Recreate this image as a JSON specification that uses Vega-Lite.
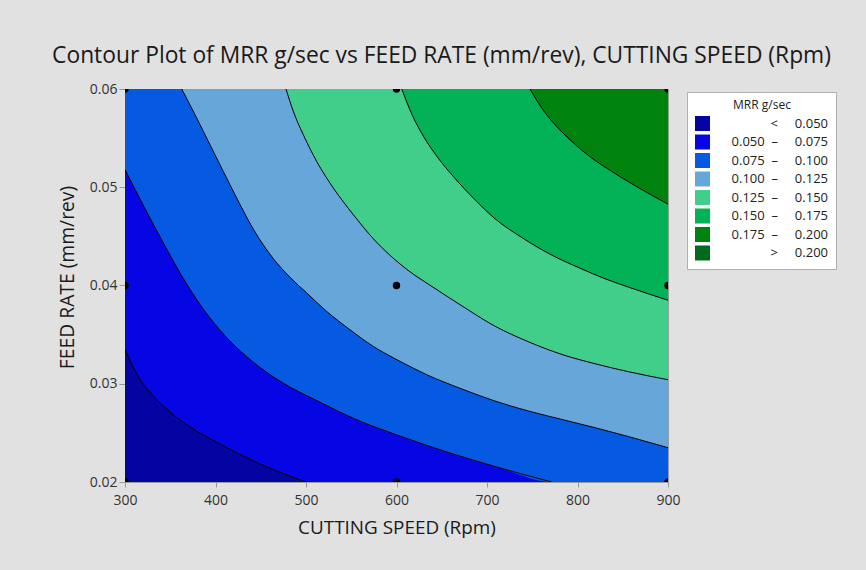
{
"$schema": "https://vega.github.io/schema/vega-lite/v6.json",
"width": 543, "height": 393,
"autosize": {"type": "none"},
"padding": {"left": 125, "top": 89, "right": 198, "bottom": 88},
"background": "#e1e1e1",
"title": {"text": "Contour Plot of MRR g/sec vs FEED RATE (mm/rev), CUTTING SPEED (Rpm)", "font": "Open Sans", "fontSize": 22.8, "fontWeight": "normal", "color": "#1a1a1a", "anchor": "middle", "dx": 45, "offset": 14},
"datasets": {
"contours": [
{"k":0,"e":1,"x":300,"y":0.02},{"k":0,"e":1,"x":900,"y":0.02},
{"k":1,"e":0,"x":300,"y":0.03347},{"k":1,"e":0,"x":316.6,"y":0.03046},{"k":1,"e":0,"x":331.3,"y":0.02875},{"k":1,"e":0,"x":349.7,"y":0.02713},{"k":1,"e":0,"x":371.8,"y":0.02561},{"k":1,"e":0,"x":397.2,"y":0.02425},{"k":1,"e":0,"x":423.4,"y":0.02298},{"k":1,"e":0,"x":441.8,"y":0.02214},{"k":1,"e":0,"x":467.6,"y":0.02112},{"k":1,"e":0,"x":497,"y":0.0201},{"k":1,"e":0,"x":500,"y":0.02},{"k":1,"e":1,"x":900,"y":0.02},
{"k":2,"e":0,"x":300,"y":0.05179},{"k":2,"e":0,"x":322.1,"y":0.04782},{"k":2,"e":0,"x":344.2,"y":0.04401},{"k":2,"e":0,"x":366.3,"y":0.04042},{"k":2,"e":0,"x":388.4,"y":0.03736},{"k":2,"e":0,"x":410.5,"y":0.03488},{"k":2,"e":0,"x":441.8,"y":0.03219},{"k":2,"e":0,"x":471.3,"y":0.03026},{"k":2,"e":0,"x":515.5,"y":0.02812},{"k":2,"e":0,"x":559.7,"y":0.02619},{"k":2,"e":0,"x":603.9,"y":0.02468},{"k":2,"e":0,"x":659.1,"y":0.02295},{"k":2,"e":0,"x":714.4,"y":0.02143},{"k":2,"e":0,"x":771.5,"y":0.02},{"k":2,"e":1,"x":900,"y":0.02},
{"k":3,"e":0,"x":362.7,"y":0.06},{"k":3,"e":0,"x":379.2,"y":0.05705},{"k":3,"e":0,"x":393.9,"y":0.05433},{"k":3,"e":0,"x":408.6,"y":0.05161},{"k":3,"e":0,"x":423.4,"y":0.04891},{"k":3,"e":0,"x":441.8,"y":0.04573},{"k":3,"e":0,"x":463.9,"y":0.04273},{"k":3,"e":0,"x":482.3,"y":0.04084},{"k":3,"e":0,"x":500.8,"y":0.03924},{"k":3,"e":0,"x":522.9,"y":0.03736},{"k":3,"e":0,"x":548.6,"y":0.0355},{"k":3,"e":0,"x":574.4,"y":0.0338},{"k":3,"e":0,"x":603.9,"y":0.03228},{"k":3,"e":0,"x":633.4,"y":0.03092},{"k":3,"e":0,"x":671.3,"y":0.0295},{"k":3,"e":0,"x":708.8,"y":0.02824},{"k":3,"e":0,"x":745.6,"y":0.02723},{"k":3,"e":0,"x":782.5,"y":0.02637},{"k":3,"e":0,"x":819.3,"y":0.02553},{"k":3,"e":0,"x":856.1,"y":0.02463},{"k":3,"e":0,"x":900,"y":0.02349},
{"k":4,"e":0,"x":477.9,"y":0.06},{"k":4,"e":0,"x":486,"y":0.05772},{"k":4,"e":0,"x":497,"y":0.05535},{"k":4,"e":0,"x":511.8,"y":0.05263},{"k":4,"e":0,"x":530.2,"y":0.04992},{"k":4,"e":0,"x":552.3,"y":0.04721},{"k":4,"e":0,"x":574.4,"y":0.04476},{"k":4,"e":0,"x":592.8,"y":0.04308},{"k":4,"e":0,"x":614.9,"y":0.0414},{"k":4,"e":0,"x":637,"y":0.04003},{"k":4,"e":0,"x":670.2,"y":0.03805},{"k":4,"e":0,"x":708.8,"y":0.03586},{"k":4,"e":0,"x":745.6,"y":0.03428},{"k":4,"e":0,"x":782.5,"y":0.03299},{"k":4,"e":0,"x":819.3,"y":0.03204},{"k":4,"e":0,"x":856.1,"y":0.03123},{"k":4,"e":0,"x":900,"y":0.03041},
{"k":5,"e":0,"x":605.8,"y":0.06},{"k":5,"e":0,"x":617.7,"y":0.05728},{"k":5,"e":0,"x":630.4,"y":0.05509},{"k":5,"e":0,"x":645.3,"y":0.05306},{"k":5,"e":0,"x":663.5,"y":0.05102},{"k":5,"e":0,"x":685.6,"y":0.04883},{"k":5,"e":0,"x":708.8,"y":0.0468},{"k":5,"e":0,"x":738.7,"y":0.04487},{"k":5,"e":0,"x":769.6,"y":0.04319},{"k":5,"e":0,"x":802.8,"y":0.04176},{"k":5,"e":0,"x":830.4,"y":0.04069},{"k":5,"e":0,"x":858.1,"y":0.03978},{"k":5,"e":0,"x":900,"y":0.0385},
{"k":6,"e":0,"x":747.5,"y":0.06},{"k":6,"e":0,"x":760.4,"y":0.05807},{"k":6,"e":0,"x":775.1,"y":0.05637},{"k":6,"e":0,"x":793.6,"y":0.05467},{"k":6,"e":0,"x":815.7,"y":0.05298},{"k":6,"e":0,"x":837.8,"y":0.05161},{"k":6,"e":0,"x":863.5,"y":0.05016},{"k":6,"e":0,"x":900,"y":0.04828}
],
"bands": [
{"k":0,"band":"<\u00a0\u00a0\u00a0\u00a0\u00a00.050"},
{"k":1,"band":"0.050\u00a0\u00a0–\u00a0\u00a0\u00a0\u00a0\u00a00.075"},
{"k":2,"band":"0.075\u00a0\u00a0–\u00a0\u00a0\u00a0\u00a0\u00a00.100"},
{"k":3,"band":"0.100\u00a0\u00a0–\u00a0\u00a0\u00a0\u00a0\u00a00.125"},
{"k":4,"band":"0.125\u00a0\u00a0–\u00a0\u00a0\u00a0\u00a0\u00a00.150"},
{"k":5,"band":"0.150\u00a0\u00a0–\u00a0\u00a0\u00a0\u00a0\u00a00.175"},
{"k":6,"band":"0.175\u00a0\u00a0–\u00a0\u00a0\u00a0\u00a0\u00a00.200"},
{"k":7,"band":">\u00a0\u00a0\u00a0\u00a0\u00a00.200"}
],
"design": [
{"x":300,"y":0.02},{"x":300,"y":0.04},{"x":300,"y":0.06},
{"x":600,"y":0.02},{"x":600,"y":0.04},{"x":600,"y":0.06},
{"x":900,"y":0.02},{"x":900,"y":0.04},{"x":900,"y":0.06}
]
},
"encoding": {
"x": {"field": "x", "type": "quantitative", "scale": {"domain": [300, 900], "nice": false, "zero": false},
 "axis": {"values": [300,400,500,600,700,800,900], "format": "d", "title": "CUTTING SPEED (Rpm)", "labelFontSize": 14, "labelColor": "#333333", "labelPadding": 6, "labelFlush": false, "tickSize": 5, "tickColor": "#999999", "domain": false, "grid": false, "titleFontSize": 18.9, "titleFontWeight": "normal", "titleColor": "#1a1a1a", "titlePadding": 11}},
"y": {"field": "y", "type": "quantitative", "scale": {"domain": [0.02, 0.06], "nice": false, "zero": false},
 "axis": {"values": [0.02,0.03,0.04,0.05,0.06], "format": ".2f", "title": "FEED RATE (mm/rev)", "titleY": 188, "labelFontSize": 14, "labelColor": "#333333", "labelPadding": 2, "labelFlush": false, "tickSize": 6, "tickColor": "#999999", "domain": false, "grid": false, "titleFontSize": 19.3, "titleFontWeight": "normal", "titleColor": "#1a1a1a", "titlePadding": 12}}
},
"layer": [
{
"data": {"name": "contours"},
"transform": [{"lookup": "k", "from": {"data": {"name": "bands"}, "key": "k", "fields": ["band"]}}],
"encoding": {
"color": {"field": "band", "type": "nominal",
 "scale": {"domain": ["<\u00a0\u00a0\u00a0\u00a0\u00a00.050","0.050\u00a0\u00a0–\u00a0\u00a0\u00a0\u00a0\u00a00.075","0.075\u00a0\u00a0–\u00a0\u00a0\u00a0\u00a0\u00a00.100","0.100\u00a0\u00a0–\u00a0\u00a0\u00a0\u00a0\u00a00.125","0.125\u00a0\u00a0–\u00a0\u00a0\u00a0\u00a0\u00a00.150","0.150\u00a0\u00a0–\u00a0\u00a0\u00a0\u00a0\u00a00.175","0.175\u00a0\u00a0–\u00a0\u00a0\u00a0\u00a0\u00a00.200",">\u00a0\u00a0\u00a0\u00a0\u00a00.200"],
  "range": ["#0404A2","#0606E4","#065AE2","#66A6D9","#41CE8B","#03B157","#00820F","#006A1E"]},
 "legend": {"orient": "none", "legendX": 562, "legendY": 3, "title": "MRR g/sec", "titleFontSize": 12, "titleFontWeight": "normal", "titleColor": "#222222", "titleAnchor": "middle", "titlePadding": 4, "labelFontSize": 13, "labelColor": "#222222", "labelAlign": "right", "labelOffset": 118, "labelLimit": 300, "symbolType": "square", "symbolSize": 225, "symbolStrokeWidth": 0, "symbolOpacity": 1, "rowPadding": 3.5, "padding": 8, "fillColor": "white", "strokeColor": "#b0b0b0"}}
},
"layer": [
{"transform": [{"filter": "datum.k == 0"}], "mark": {"type": "area", "orient": "vertical", "interpolate": "monotone", "clip": true}, "encoding": {"y2": {"datum": 0.06}}},
{"transform": [{"filter": "datum.k == 1"}], "mark": {"type": "area", "orient": "vertical", "interpolate": "monotone", "clip": true}, "encoding": {"y2": {"datum": 0.06}}},
{"transform": [{"filter": "datum.k == 2"}], "mark": {"type": "area", "orient": "vertical", "interpolate": "monotone", "clip": true}, "encoding": {"y2": {"datum": 0.06}}},
{"transform": [{"filter": "datum.k == 3"}], "mark": {"type": "area", "orient": "vertical", "interpolate": "monotone", "clip": true}, "encoding": {"y2": {"datum": 0.06}}},
{"transform": [{"filter": "datum.k == 4"}], "mark": {"type": "area", "orient": "vertical", "interpolate": "monotone", "clip": true}, "encoding": {"y2": {"datum": 0.06}}},
{"transform": [{"filter": "datum.k == 5"}], "mark": {"type": "area", "orient": "vertical", "interpolate": "monotone", "clip": true}, "encoding": {"y2": {"datum": 0.06}}},
{"transform": [{"filter": "datum.k == 6"}], "mark": {"type": "area", "orient": "vertical", "interpolate": "monotone", "clip": true}, "encoding": {"y2": {"datum": 0.06}}},
{"transform": [{"filter": "datum.k > 0 && datum.e == 0"}], "mark": {"type": "line", "interpolate": "monotone", "strokeWidth": 1, "clip": true}, "encoding": {"color": {"value": "#000000"}, "detail": {"field": "k", "type": "nominal"}}}
]
},
{
"data": {"name": "design"},
"mark": {"type": "circle", "color": "#000000", "opacity": 1, "size": 55, "clip": true},
"encoding": {}
}
],
"config": {
"font": "Open Sans",
"view": {"stroke": "#9a9a9a", "strokeWidth": 1}
}
}
